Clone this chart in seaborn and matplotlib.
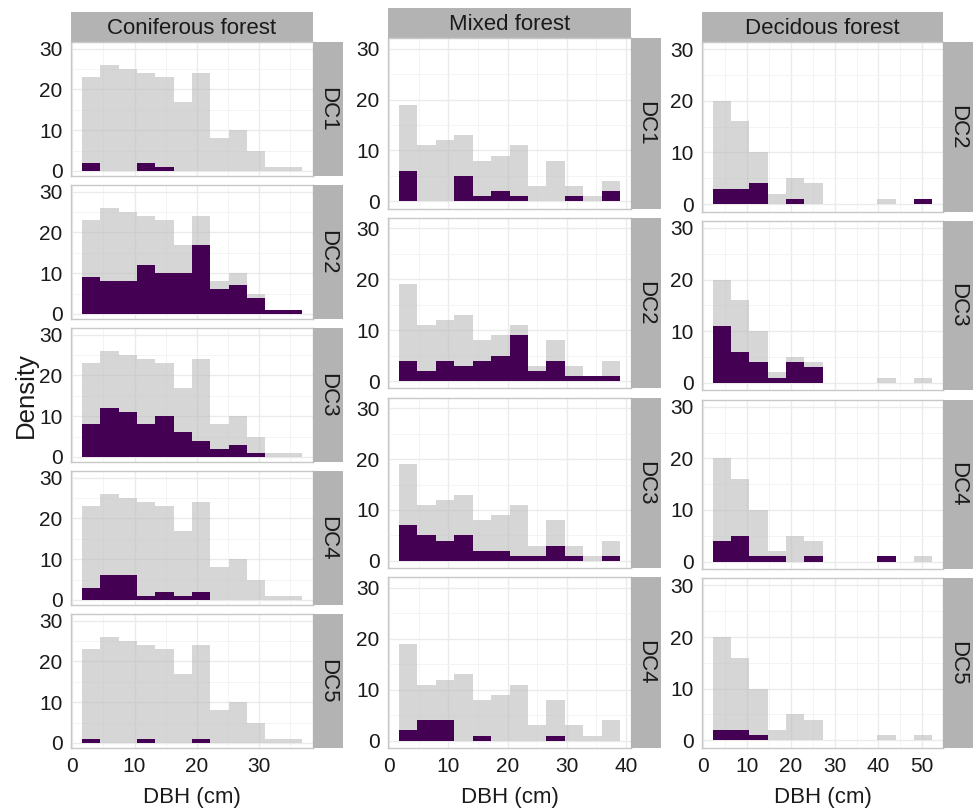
import numpy as np
import pandas as pd
import matplotlib
matplotlib.use("Agg")
import matplotlib.pyplot as plt
import seaborn as sns
from matplotlib.ticker import MultipleLocator

# ---------------- data ----------------
forest_types = ["Coniferous forest", "Mixed forest", "Decidous forest"]
n_bins = 12

# histogram bins (DBH, cm): start of first bin and bin width
conif_bin_start, conif_bin_width = 1.56, 2.945
mixed_bin_start, mixed_bin_width = 1.64, 3.113
decid_bin_start, decid_bin_width = 2.2, 4.17

# Coniferous forest
conif_labels = ["DC1", "DC2", "DC3", "DC4", "DC5"]
conif_all = [23, 26, 25, 24, 23, 17, 24, 8, 10, 5, 1, 1]
conif_dc1 = [2, 0, 0, 2, 1, 0, 0, 0, 0, 0, 0, 0]
conif_dc2 = [9, 8, 8, 12, 10, 10, 17, 6, 7, 4, 1, 1]
conif_dc3 = [8, 12, 11, 8, 10, 6, 4, 2, 3, 1, 0, 0]
conif_dc4 = [3, 6, 6, 1, 2, 1, 2, 0, 0, 0, 0, 0]
conif_dc5 = [1, 0, 0, 1, 0, 0, 1, 0, 0, 0, 0, 0]

# Mixed forest
mixed_labels = ["DC1", "DC2", "DC3", "DC4"]
mixed_all = [19, 11, 12, 13, 8, 9, 11, 3, 8, 3, 1, 4]
mixed_dc1 = [6, 0, 0, 5, 1, 2, 1, 0, 0, 1, 0, 2]
mixed_dc2 = [4, 2, 4, 3, 4, 5, 9, 2, 4, 1, 1, 1]
mixed_dc3 = [7, 5, 4, 5, 2, 2, 1, 1, 3, 1, 0, 1]
mixed_dc4 = [2, 4, 4, 0, 1, 0, 0, 0, 1, 0, 0, 0]

# Decidous forest
decid_labels = ["DC2", "DC3", "DC4", "DC5"]
decid_all = [20, 16, 10, 2, 5, 4, 0, 0, 0, 1, 0, 1]
decid_dc2 = [3, 3, 4, 0, 1, 0, 0, 0, 0, 0, 0, 1]
decid_dc3 = [11, 6, 4, 1, 4, 3, 0, 0, 0, 0, 0, 0]
decid_dc4 = [4, 5, 1, 1, 0, 1, 0, 0, 0, 1, 0, 0]
decid_dc5 = [2, 2, 1, 0, 0, 0, 0, 0, 0, 0, 0, 0]

x_ticks_conif = [0, 10, 20, 30]
x_ticks_mixed = [0, 10, 20, 30, 40]
x_ticks_decid = [0, 10, 20, 30, 40, 50]
y_ticks = [0, 10, 20, 30]

columns = [
    dict(title=forest_types[0], start=conif_bin_start, width=conif_bin_width,
         all=conif_all, labels=conif_labels,
         series=[conif_dc1, conif_dc2, conif_dc3, conif_dc4, conif_dc5],
         xticks=x_ticks_conif),
    dict(title=forest_types[1], start=mixed_bin_start, width=mixed_bin_width,
         all=mixed_all, labels=mixed_labels,
         series=[mixed_dc1, mixed_dc2, mixed_dc3, mixed_dc4],
         xticks=x_ticks_mixed),
    dict(title=forest_types[2], start=decid_bin_start, width=decid_bin_width,
         all=decid_all, labels=decid_labels,
         series=[decid_dc2, decid_dc3, decid_dc4, decid_dc5],
         xticks=x_ticks_decid),
]

# ---------------- layout / style ----------------
sns.set_style("white")
plt.rcParams["font.family"] = ["Liberation Sans", "DejaVu Sans"]

W, H = 973, 808
fig = plt.figure(figsize=(W / 100, H / 100), dpi=100)

layout = [
    dict(x0=71, x1=313, top=42, bottom=748, head_top=12, ylim=(-1.25, 31.65)),
    dict(x0=388, x1=631, top=38, bottom=748, head_top=8, ylim=(-1.45, 32.1)),
    dict(x0=702, x1=943, top=42, bottom=748, head_top=12, ylim=(-1.5, 31.4)),
]
GAP = 9
STRIP_W = 30
GREY = "#bdbdbd"
PURPLE = "#440154"
STRIP_BG = "#b3b3b3"
BORDER = "#c8c8c8"
TXT = "#1a1a1a"
FS_TICK = 15
FS_STRIP = 16
FS_TITLE = 16


def px_axes(x0, y0, x1, y1):
    return fig.add_axes([x0 / W, 1 - y1 / H, (x1 - x0) / W, (y1 - y0) / H])


for col, lay in zip(columns, layout):
    edges = [float(col["start"] + col["width"] * k) for k in range(n_bins + 1)]
    centers = [(a + b) / 2 for a, b in zip(edges[:-1], edges[1:])]
    lo, hi = edges[0], edges[-1]
    xlim = (lo - 0.05 * (hi - lo), hi + 0.05 * (hi - lo))
    n = len(col["series"])
    ph = (lay["bottom"] - lay["top"] - GAP * (n - 1)) / n

    # column header strip
    hax = px_axes(lay["x0"], lay["head_top"], lay["x1"], lay["top"])
    hax.set_facecolor(STRIP_BG)
    hax.set_xticks([]); hax.set_yticks([])
    for s in hax.spines.values():
        s.set_visible(False)
    hax.text(0.5, 0.45, col["title"], ha="center", va="center",
             fontsize=FS_STRIP, color=TXT, transform=hax.transAxes)

    all_df = pd.DataFrame({"dbh": centers, "n": col["all"]})
    for i, (lab, vals) in enumerate(zip(col["labels"], col["series"])):
        y0 = lay["top"] + i * (ph + GAP)
        y1 = y0 + ph
        ax = px_axes(lay["x0"], y0, lay["x1"], y1)
        ax.set_axisbelow(True)
        dc_df = pd.DataFrame({"dbh": centers, "n": vals})
        sns.histplot(data=all_df, x="dbh", weights="n", bins=edges,
                     element="step", fill=True, color=GREY, alpha=0.62,
                     linewidth=0, ax=ax)
        sns.histplot(data=dc_df, x="dbh", weights="n", bins=edges,
                     element="step", fill=True, color=PURPLE, alpha=1.0,
                     linewidth=0, ax=ax)
        ax.set_xlim(*xlim)
        ax.set_ylim(*lay["ylim"])
        ax.set_xlabel(""); ax.set_ylabel("")
        ax.set_yticks(y_ticks)
        ax.set_xticks(col["xticks"])
        ax.xaxis.set_minor_locator(MultipleLocator(5))
        ax.yaxis.set_minor_locator(MultipleLocator(5))
        ax.grid(which="major", color="#ebebeb", linewidth=1.0)
        ax.grid(which="minor", color="#f3f3f3", linewidth=0.6)
        ax.tick_params(which="minor", length=0)
        ax.tick_params(axis="y", which="major", length=3.5, width=0.8,
                       color=BORDER, pad=2.5, labelsize=FS_TICK, labelcolor=TXT)
        last = i == n - 1
        ax.tick_params(axis="x", which="major", length=3.5 if last else 0,
                       width=0.8, color=BORDER, pad=3, labelsize=FS_TICK,
                       labelcolor=TXT, labelbottom=last)
        for s in ax.spines.values():
            s.set_color(BORDER)
            s.set_linewidth(1.0)

        # row strip
        rax = px_axes(lay["x1"], y0, lay["x1"] + STRIP_W, y1)
        rax.set_facecolor(STRIP_BG)
        rax.set_xticks([]); rax.set_yticks([])
        for s in rax.spines.values():
            s.set_visible(False)
        rax.text(0.5, 0.5, lab, ha="center", va="center", rotation=270,
                 fontsize=FS_STRIP, color=TXT, transform=rax.transAxes)

    # x-axis title per column
    fig.text(((lay["x0"] + lay["x1"]) / 2) / W, 1 - 797 / H, "DBH (cm)",
             ha="center", va="center", fontsize=FS_TITLE, color=TXT)

fig.text(26 / W, 1 - 395 / H, "Density", rotation=90, ha="center", va="center",
         fontsize=18.5, color=TXT)

fig.savefig("out.png", dpi=100, facecolor="white")
